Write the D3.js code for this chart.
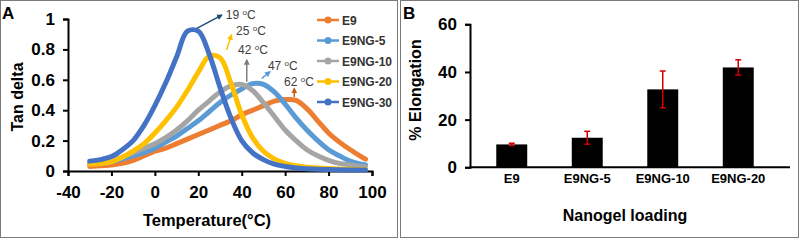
<!DOCTYPE html>
<html>
<head>
<meta charset="utf-8">
<script src="https://cdn.jsdelivr.net/npm/d3@7"></script>
<style>
  body { margin: 0; background: #fff; }
  svg { display: block; font-family: "Liberation Sans", Arial, sans-serif; }
</style>
</head>
<body>
<svg id="chart" width="800" height="240"></svg>
<script>
"use strict";

// ---------- data: panel A (tan delta vs temperature) ----------
const temps = [-30, -25, -20, -15, -10, -5, 0, 5, 10, 15, 20, 25, 30, 35, 40, 45, 50, 55, 60, 65, 70, 75, 80, 85, 90, 95, 97];
const seriesNames = ["E9", "E9NG-5", "E9NG-10", "E9NG-20", "E9NG-30"];
const seriesColors = ["#ED7D31", "#5B9BD5", "#A5A5A5", "#FFC000", "#4472C4"];
const tanE9    = [0.03, 0.035, 0.04, 0.05, 0.07, 0.1, 0.13, 0.15, 0.18, 0.21, 0.24, 0.27, 0.3, 0.33, 0.37, 0.4, 0.43, 0.46, 0.47, 0.465, 0.41, 0.33, 0.25, 0.19, 0.14, 0.095, 0.078];
const tanNG5   = [0.05, 0.05, 0.06, 0.08, 0.1, 0.12, 0.15, 0.19, 0.23, 0.28, 0.33, 0.39, 0.45, 0.5, 0.54, 0.575, 0.57, 0.52, 0.44, 0.35, 0.27, 0.2, 0.14, 0.1, 0.065, 0.045, 0.04];
const tanNG10  = [0.05, 0.055, 0.07, 0.09, 0.12, 0.15, 0.18, 0.22, 0.27, 0.33, 0.4, 0.46, 0.52, 0.56, 0.57, 0.53, 0.45, 0.36, 0.27, 0.2, 0.14, 0.1, 0.07, 0.05, 0.04, 0.03, 0.028];
const tanNG20  = [0.045, 0.05, 0.06, 0.09, 0.13, 0.18, 0.25, 0.33, 0.42, 0.53, 0.65, 0.755, 0.745, 0.58, 0.37, 0.22, 0.13, 0.08, 0.05, 0.035, 0.025, 0.02, 0.016, 0.013, 0.011, 0.01, 0.01];
const tanNG30  = [0.065, 0.075, 0.095, 0.14, 0.2, 0.3, 0.43, 0.58, 0.75, 0.92, 0.92, 0.77, 0.55, 0.35, 0.2, 0.12, 0.075, 0.045, 0.03, 0.02, 0.015, 0.012, 0.01, 0.008, 0.007, 0.006, 0.006];
const tanSeries = [tanE9, tanNG5, tanNG10, tanNG20, tanNG30];

// peak annotations (temperature label, peak temp, peak value)
const peakLabels = ["19", "25", "42", "47", "62"];
const peakTemps  = [17, 27, 42, 47, 62];
const peakVals   = [0.93, 0.77, 0.57, 0.58, 0.47];
const peakColors = ["#1F4E79", "#FFC000", "#7F7F7F", "#5B9BD5", "#C55A11"];

const xTicksA = [-40, -20, 0, 20, 40, 60, 80, 100];
const yTicksA = [0, 0.2, 0.4, 0.6, 0.8, 1];

// ---------- data: panel B (% elongation) ----------
const loadings   = ["E9", "E9NG-5", "E9NG-10", "E9NG-20"];
const elongation = [9.6, 12.4, 32.7, 41.9];
const elongErr   = [0.5, 2.7, 7.7, 3.2];
const yTicksB = [0, 20, 40, 60];

const svg = d3.select("#chart");

// panel frames
svg.append("rect").attr("x", 0.5).attr("y", 0.5).attr("width", 397).attr("height", 237)
  .attr("fill", "none").attr("stroke", "#7a7a7a");
svg.append("rect").attr("x", 400.5).attr("y", 0.5).attr("width", 398).attr("height", 237)
  .attr("fill", "none").attr("stroke", "#7a7a7a");

// ================= PANEL A =================
const xA = d3.scaleLinear().domain([-40, 100]).range([68, 372]);
const yA = d3.scaleLinear().domain([0, 1]).range([171, 19]);

const gxA = svg.append("g").attr("transform", `translate(0,${yA(0)})`)
  .call(d3.axisBottom(xA).tickValues(xTicksA).tickSize(5).tickPadding(10).tickFormat(d => String(d)));
const gyA = svg.append("g").attr("transform", `translate(${xA(-40)},0)`)
  .call(d3.axisLeft(yA).tickValues(yTicksA).tickSize(5).tickPadding(8).tickFormat(d => d === 0 || d === 1 ? d : d.toFixed(1)));

[gxA, gyA].forEach(g => {
  g.select(".domain").attr("stroke", "#000").attr("stroke-width", 2);
  g.selectAll(".tick line").attr("stroke", "#000").attr("stroke-width", 2);
  g.selectAll(".tick text").attr("fill", "#000").style("font-size", "17px").style("font-weight", "bold");
});

const line = d3.line()
  .x((d, i) => xA(temps[i]))
  .y(d => yA(d))
  .curve(d3.curveCatmullRom.alpha(0.5));

tanSeries.forEach((vals, k) => {
  svg.append("path")
    .datum(vals)
    .attr("d", line)
    .attr("fill", "none")
    .attr("stroke", seriesColors[k])
    .attr("stroke-width", 5)
    .attr("stroke-linecap", "round")
    .attr("stroke-linejoin", "round");
});

// arrow markers
const defs = svg.append("defs");
peakColors.forEach((c, i) => {
  defs.append("marker")
    .attr("id", "arr" + i)
    .attr("viewBox", "0 0 10 10")
    .attr("refX", 8).attr("refY", 5)
    .attr("markerWidth", 4).attr("markerHeight", 4)
    .attr("orient", "auto")
    .append("path").attr("d", "M0,0L10,5L0,10Z").attr("fill", c);
});

// arrow and label offsets from each peak (pixels)
const arrowFrom = [[5, -1.3], [13, -4], [0.7, -2.7], [4.8, -4.5], [4.8, -2.6]];
const arrowTo   = [[30, -14.6], [18, -19], [0.7, -24.4], [13, -11], [4.8, -11]];
const textAt    = [[34, -11], [22.5, -19], [-8, -30.4], [11, -12.8], [-5.5, -14]];

peakTemps.forEach((t, i) => {
  const px = xA(t), py = yA(peakVals[i]);
  svg.append("line")
    .attr("x1", px + arrowFrom[i][0]).attr("y1", py + arrowFrom[i][1])
    .attr("x2", px + arrowTo[i][0]).attr("y2", py + arrowTo[i][1])
    .attr("stroke", peakColors[i]).attr("stroke-width", 1.5)
    .attr("marker-end", `url(#arr${i})`);
  const tx = svg.append("text")
    .attr("x", px + textAt[i][0]).attr("y", py + textAt[i][1])
    .attr("fill", "#404040").style("font-size", "12px");
  tx.append("tspan").text(peakLabels[i] + " ");
  tx.append("tspan").attr("dy", -4).style("font-size", "8px").text("o");
  tx.append("tspan").attr("dy", 4).text("C");
});

// legend
seriesNames.forEach((name, i) => {
  const ly = 20 + i * 20.5;
  svg.append("line").attr("x1", 317).attr("x2", 339).attr("y1", ly).attr("y2", ly)
    .attr("stroke", seriesColors[i]).attr("stroke-width", 2.5);
  svg.append("circle").attr("cx", 328).attr("cy", ly).attr("r", 3.5).attr("fill", seriesColors[i]);
  svg.append("text").attr("x", 342).attr("y", ly + 4.5)
    .attr("fill", "#333").style("font-size", "12px").style("font-weight", "bold").text(name);
});

// titles
svg.append("text").attr("x", 207).attr("y", 226).attr("text-anchor", "middle")
  .style("font-size", "16.5px").style("font-weight", "bold").text("Temperature(°C)");
svg.append("text").attr("transform", "translate(23,97) rotate(-90)").attr("text-anchor", "middle")
  .style("font-size", "16px").style("font-weight", "bold").text("Tan delta");
svg.append("text").attr("x", 2).attr("y", 19)
  .style("font-size", "17px").style("font-weight", "bold").text("A");

// ================= PANEL B =================
const xB = d3.scaleBand().domain(loadings).range([474, 776]).paddingInner(0.59).paddingOuter(0.295);
const yB = d3.scaleLinear().domain([0, 60]).range([167.3, 24.3]);

const gyB = svg.append("g").attr("transform", "translate(470,0)")
  .call(d3.axisLeft(yB).tickValues(yTicksB).tickSize(5).tickPadding(8));
gyB.select(".domain").attr("stroke", "#000").attr("stroke-width", 2);
gyB.selectAll(".tick line").attr("stroke", "#000").attr("stroke-width", 2);
gyB.selectAll(".tick text").attr("fill", "#000").style("font-size", "17px").style("font-weight", "bold");

const gxB = svg.append("g").attr("transform", `translate(0,${yB(0)})`)
  .call(d3.axisBottom(xB).tickSize(0).tickPadding(6));
gxB.select(".domain").remove();
gxB.selectAll(".tick text").attr("fill", "#000").style("font-size", "13px").style("font-weight", "bold");
svg.append("line").attr("x1", 470).attr("x2", 790).attr("y1", yB(0)).attr("y2", yB(0))
  .attr("stroke", "#000").attr("stroke-width", 2);

svg.selectAll("rect.bar").data(elongation).enter().append("rect")
  .attr("class", "bar")
  .attr("x", (d, i) => xB(loadings[i]))
  .attr("width", xB.bandwidth())
  .attr("y", d => yB(d))
  .attr("height", d => yB(0) - yB(d))
  .attr("fill", "#000");

// error bars
elongation.forEach((v, i) => {
  const cx = xB(loadings[i]) + xB.bandwidth() / 2;
  const g = svg.append("g").attr("stroke", "#D00000").attr("stroke-width", 1.5);
  g.append("line").attr("x1", cx).attr("x2", cx).attr("y1", yB(v + elongErr[i])).attr("y2", yB(v - elongErr[i]));
  [v + elongErr[i], v - elongErr[i]].forEach(e => {
    g.append("line").attr("x1", cx - 3).attr("x2", cx + 3).attr("y1", yB(e)).attr("y2", yB(e));
  });
});

svg.append("text").attr("x", 625).attr("y", 221).attr("text-anchor", "middle")
  .style("font-size", "16px").style("font-weight", "bold").text("Nanogel loading");
svg.append("text").attr("transform", "translate(421,90) rotate(-90)").attr("text-anchor", "middle")
  .style("font-size", "16px").style("font-weight", "bold").text("% Elongation");
svg.append("text").attr("x", 403).attr("y", 19)
  .style("font-size", "17px").style("font-weight", "bold").text("B");
</script>
</body>
</html>
